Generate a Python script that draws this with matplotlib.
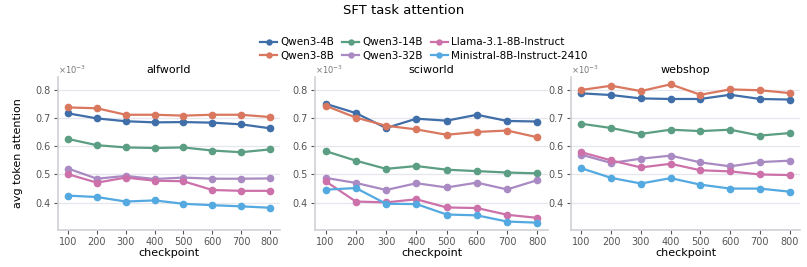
import matplotlib
matplotlib.use("Agg")
import matplotlib.pyplot as plt
import numpy as np

checkpoints = [100, 200, 300, 400, 500, 600, 700, 800]
tasks = ["alfworld", "sciworld", "webshop"]
models = ["Qwen3-4B", "Qwen3-8B", "Qwen3-14B", "Qwen3-32B",
          "Llama-3.1-8B-Instruct", "Ministral-8B-Instruct-2410"]
colors = ["#3f6ea8", "#d9775f", "#5b9e83", "#a98ac3", "#cc71aa", "#53a9e0"]

# values in units of 1e-3
alfworld = {
    "Qwen3-4B": [0.717, 0.699, 0.689, 0.685, 0.686, 0.684, 0.678, 0.664],
    "Qwen3-8B": [0.738, 0.735, 0.712, 0.712, 0.709, 0.712, 0.712, 0.704],
    "Qwen3-14B": [0.626, 0.604, 0.596, 0.594, 0.596, 0.585, 0.579, 0.589],
    "Qwen3-32B": [0.521, 0.485, 0.495, 0.484, 0.489, 0.485, 0.485, 0.486],
    "Llama-3.1-8B-Instruct": [0.501, 0.471, 0.489, 0.478, 0.476, 0.445, 0.442, 0.442],
    "Ministral-8B-Instruct-2410": [0.425, 0.420, 0.404, 0.408, 0.396, 0.391, 0.387, 0.382],
}
sciworld = {
    "Qwen3-4B": [0.751, 0.718, 0.665, 0.698, 0.691, 0.712, 0.690, 0.688],
    "Qwen3-8B": [0.744, 0.702, 0.673, 0.660, 0.641, 0.651, 0.656, 0.632],
    "Qwen3-14B": [0.583, 0.549, 0.520, 0.530, 0.517, 0.512, 0.507, 0.504],
    "Qwen3-32B": [0.488, 0.470, 0.445, 0.469, 0.454, 0.471, 0.447, 0.480],
    "Llama-3.1-8B-Instruct": [0.476, 0.404, 0.401, 0.412, 0.383, 0.381, 0.357, 0.346],
    "Ministral-8B-Instruct-2410": [0.446, 0.452, 0.396, 0.395, 0.358, 0.355, 0.333, 0.329],
}
webshop = {
    "Qwen3-4B": [0.788, 0.782, 0.770, 0.768, 0.768, 0.783, 0.768, 0.766],
    "Qwen3-8B": [0.800, 0.815, 0.796, 0.820, 0.783, 0.802, 0.799, 0.789],
    "Qwen3-14B": [0.680, 0.665, 0.644, 0.659, 0.654, 0.659, 0.638, 0.647],
    "Qwen3-32B": [0.570, 0.541, 0.556, 0.567, 0.543, 0.529, 0.544, 0.549],
    "Llama-3.1-8B-Instruct": [0.579, 0.550, 0.525, 0.538, 0.515, 0.511, 0.500, 0.498],
    "Ministral-8B-Instruct-2410": [0.522, 0.488, 0.468, 0.487, 0.464, 0.450, 0.450, 0.439],
}
data = {"alfworld": alfworld, "sciworld": sciworld, "webshop": webshop}
yticks = [0.4, 0.5, 0.6, 0.7, 0.8]

plt.rcParams["font.family"] = ["DejaVu Sans"]
fig = plt.figure(figsize=(8.07, 2.67), dpi=100)
W, H = 807, 267
lefts = [58, 315, 571]
rights = [280, 548, 800]
top, bottom = 77, 230
axes = []
for i, t in enumerate(tasks):
    ax = fig.add_axes([lefts[i] / W, 1 - bottom / H, (rights[i] - lefts[i]) / W, (bottom - top) / H])
    axes.append(ax)
    for m, c in zip(models, colors):
        ax.plot(checkpoints, data[t][m], color=c, lw=1.6, marker="o", ms=4.5, label=m, zorder=3)
    ax.set_ylim(0.303, 0.846)
    ax.set_xlim(65, 835)
    ax.set_xticks(checkpoints)
    ax.set_yticks(yticks)
    ax.set_yticklabels([f"{v:.1f}" for v in yticks])
    ax.set_title(t, fontsize=8, pad=3)
    ax.set_xlabel("checkpoint", fontsize=8, labelpad=1)
    ax.grid(axis="y", color="#e6e6ee", lw=0.9, zorder=0)
    for s in ["top", "right"]:
        ax.spines[s].set_visible(False)
    for s in ["left", "bottom"]:
        ax.spines[s].set_color("#cfcfd6")
        ax.spines[s].set_linewidth(1.2)
    ax.tick_params(axis="both", labelsize=7, colors="#555555", length=3, width=0.8, pad=2)
    ax.text(0.0, 1.005, r"$\times10^{-3}$", transform=ax.transAxes, fontsize=6,
            color="#777777", ha="left", va="bottom")
axes[0].set_ylabel("avg token attention", fontsize=8, labelpad=9)

fig.suptitle("SFT task attention", fontsize=9.5, y=0.985)
handles, labels = axes[0].get_legend_handles_labels()
fig.legend(handles, labels, loc="upper center", bbox_to_anchor=(0.525, 0.86), ncol=3,
           fontsize=7.5, frameon=False, handlelength=1.6, handletextpad=0.3,
           columnspacing=0.8, labelspacing=0.35, borderaxespad=0, borderpad=0,
           markerscale=0.8)
fig.savefig("out.png", dpi=100)
